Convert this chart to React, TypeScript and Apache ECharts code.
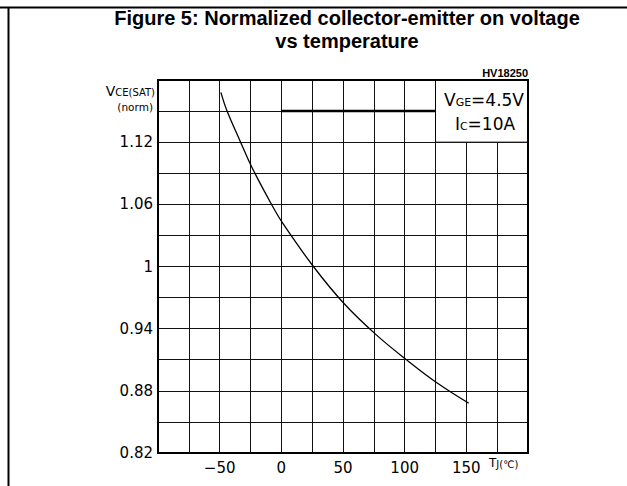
import React, { useEffect, useRef } from 'react';
import * as echarts from 'echarts';

// Curve: normalized VCE(sat) vs junction temperature
const curveTemps = [-49, -44, -33, -24, -8, 1, 26, 51, 77, 102, 127, 152];
const curveVce = [1.168, 1.15, 1.12, 1.096, 1.06, 1.042, 1.0, 0.964, 0.934, 0.9095, 0.887, 0.868];

// Thick horizontal segment in the upper grid row
const segTemps = [0, 125];
const segVce = [1.15, 1.15];

// Condition box region (temperature, vce)
const boxTemps = [125, 200];
const boxVce = [1.12, 1.18];

// Tick labels
const xTickLabels = [-50, 0, 50, 100, 150];
const yTickLabels = [0.82, 0.88, 0.94, 1, 1.06, 1.12];

const GRID_LEFT = 158;
const GRID_TOP = 80;
const GRID_RIGHT = 99;
const GRID_BOTTOM = 33;
const W = 627;
const H = 486;

export default function App() {
  const ref = useRef<HTMLDivElement>(null);
  useEffect(() => {
    if (!ref.current) return;
    const chart = echarts.init(ref.current, undefined, { renderer: 'svg' });
    const font = 'DejaVu Sans';
    const gw = W - GRID_LEFT - GRID_RIGHT;
    const gh = H - GRID_TOP - GRID_BOTTOM;
    chart.setOption({
      animation: false,
      backgroundColor: '#fff',
      grid: { left: GRID_LEFT, top: GRID_TOP, right: GRID_RIGHT, bottom: GRID_BOTTOM, containLabel: false },
      xAxis: {
        type: 'value',
        min: -100,
        max: 200,
        interval: 25,
        axisLine: { show: true, onZero: false, lineStyle: { color: '#000', width: 2 } },
        axisTick: { show: false },
        splitLine: { show: true, lineStyle: { color: '#111', width: 1 } },
        axisLabel: {
          margin: 7,
          color: '#000',
          fontSize: 15,
          fontFamily: font,
          formatter: (v: number) =>
            xTickLabels.includes(Math.round(v)) ? String(Math.round(v)).replace('-', '\u2212') : '',
        },
      },
      yAxis: {
        type: 'value',
        min: 0.82,
        max: 1.18,
        interval: 0.03,
        axisLine: { show: true, onZero: false, lineStyle: { color: '#000', width: 2 } },
        axisTick: { show: false },
        splitLine: { show: true, lineStyle: { color: '#111', width: 1 } },
        axisLabel: {
          margin: 5,
          color: '#000',
          fontSize: 15,
          fontFamily: font,
          formatter: (v: number) => {
            const k = Math.round(v * 100);
            const hit = yTickLabels.find((t) => Math.round(t * 100) === k);
            if (hit === undefined) return '';
            return k === 100 ? '1' : hit.toFixed(2);
          },
        },
      },
      series: [
        {
          type: 'line',
          data: curveTemps.map((t, i) => [t, curveVce[i]]),
          smooth: 0.4,
          symbol: 'none',
          lineStyle: { color: '#000', width: 1.3 },
          z: 5,
        },
        {
          type: 'line',
          data: segTemps.map((t, i) => [t, segVce[i]]),
          symbol: 'none',
          lineStyle: { color: '#000', width: 2.5 },
          z: 4,
          markArea: {
            silent: true,
            itemStyle: { color: '#fff', borderColor: '#000', borderWidth: 1 },
            data: [[{ xAxis: boxTemps[0], yAxis: boxVce[0] }, { xAxis: boxTemps[1], yAxis: boxVce[1] }]],
          },
        },
      ],
      graphic: [
        { type: 'line', shape: { x1: 0, y1: 7.5, x2: W, y2: 7.5 }, style: { stroke: '#000', lineWidth: 2 } },
        { type: 'line', shape: { x1: 8.5, y1: 7, x2: 8.5, y2: H }, style: { stroke: '#000', lineWidth: 2 } },
        {
          type: 'rect',
          shape: { x: GRID_LEFT, y: GRID_TOP, width: gw, height: gh },
          style: { fill: 'none', stroke: '#000', lineWidth: 2 },
          z: 100,
        },
        {
          type: 'text',
          x: 347,
          y: 29.5,
          style: {
            text: 'Figure 5: Normalized collector-emitter on voltage\nvs temperature',
            fontFamily: 'Liberation Sans, Arial',
            fontWeight: 'bold',
            fontSize: 20,
            lineHeight: 23,
            fill: '#000',
            align: 'center',
            verticalAlign: 'middle',
          },
        },
        {
          type: 'text',
          x: 528,
          y: 73,
          style: {
            text: 'HV18250',
            fontFamily: 'Liberation Sans, Arial',
            fontWeight: 'bold',
            fontSize: 11,
            fill: '#000',
            align: 'right',
            verticalAlign: 'middle',
          },
        },
        {
          type: 'text',
          x: 155,
          y: 90,
          style: {
            text: '{a|V}{b|CE(SAT)}',
            fill: '#000',
            align: 'right',
            verticalAlign: 'middle',
            rich: {
              a: { fontSize: 14, fontFamily: font, lineHeight: 15, verticalAlign: 'bottom' },
              b: { fontSize: 10, fontFamily: font, lineHeight: 15, verticalAlign: 'bottom' },
            },
          },
        },
        {
          type: 'text',
          x: 153,
          y: 107,
          style: {
            text: '(norm)',
            fontFamily: font,
            fontSize: 10.5,
            fill: '#000',
            align: 'right',
            verticalAlign: 'middle',
          },
        },
        {
          type: 'text',
          x: 484,
          y: 98,
          z: 110,
          style: {
            text: '{a|V}{b|GE}{a|=4.5V}',
            fill: '#000',
            align: 'center',
            verticalAlign: 'middle',
            rich: {
              a: { fontSize: 17, fontFamily: font, lineHeight: 20, verticalAlign: 'bottom' },
              b: { fontSize: 11, fontFamily: font, lineHeight: 20, verticalAlign: 'bottom' },
            },
          },
        },
        {
          type: 'text',
          x: 485,
          y: 122,
          z: 110,
          style: {
            text: '{a|I}{b|C}{a|=10A}',
            fill: '#000',
            align: 'center',
            verticalAlign: 'middle',
            rich: {
              a: { fontSize: 17, fontFamily: font, lineHeight: 20, verticalAlign: 'bottom' },
              b: { fontSize: 11, fontFamily: font, lineHeight: 20, verticalAlign: 'bottom' },
            },
          },
        },
        {
          type: 'text',
          x: 489,
          y: 462,
          style: {
            text: '{a|T}{b|J(\u2103)}',
            fill: '#000',
            align: 'left',
            verticalAlign: 'middle',
            rich: {
              a: { fontSize: 12, fontFamily: font, lineHeight: 14, verticalAlign: 'bottom' },
              b: { fontSize: 10, fontFamily: font, lineHeight: 14, verticalAlign: 'bottom' },
            },
          },
        },
      ],
    });
    return () => chart.dispose();
  }, []);
  return <div ref={ref} style={{ position: 'fixed', left: 0, top: 0, width: W, height: H }} />;
}
